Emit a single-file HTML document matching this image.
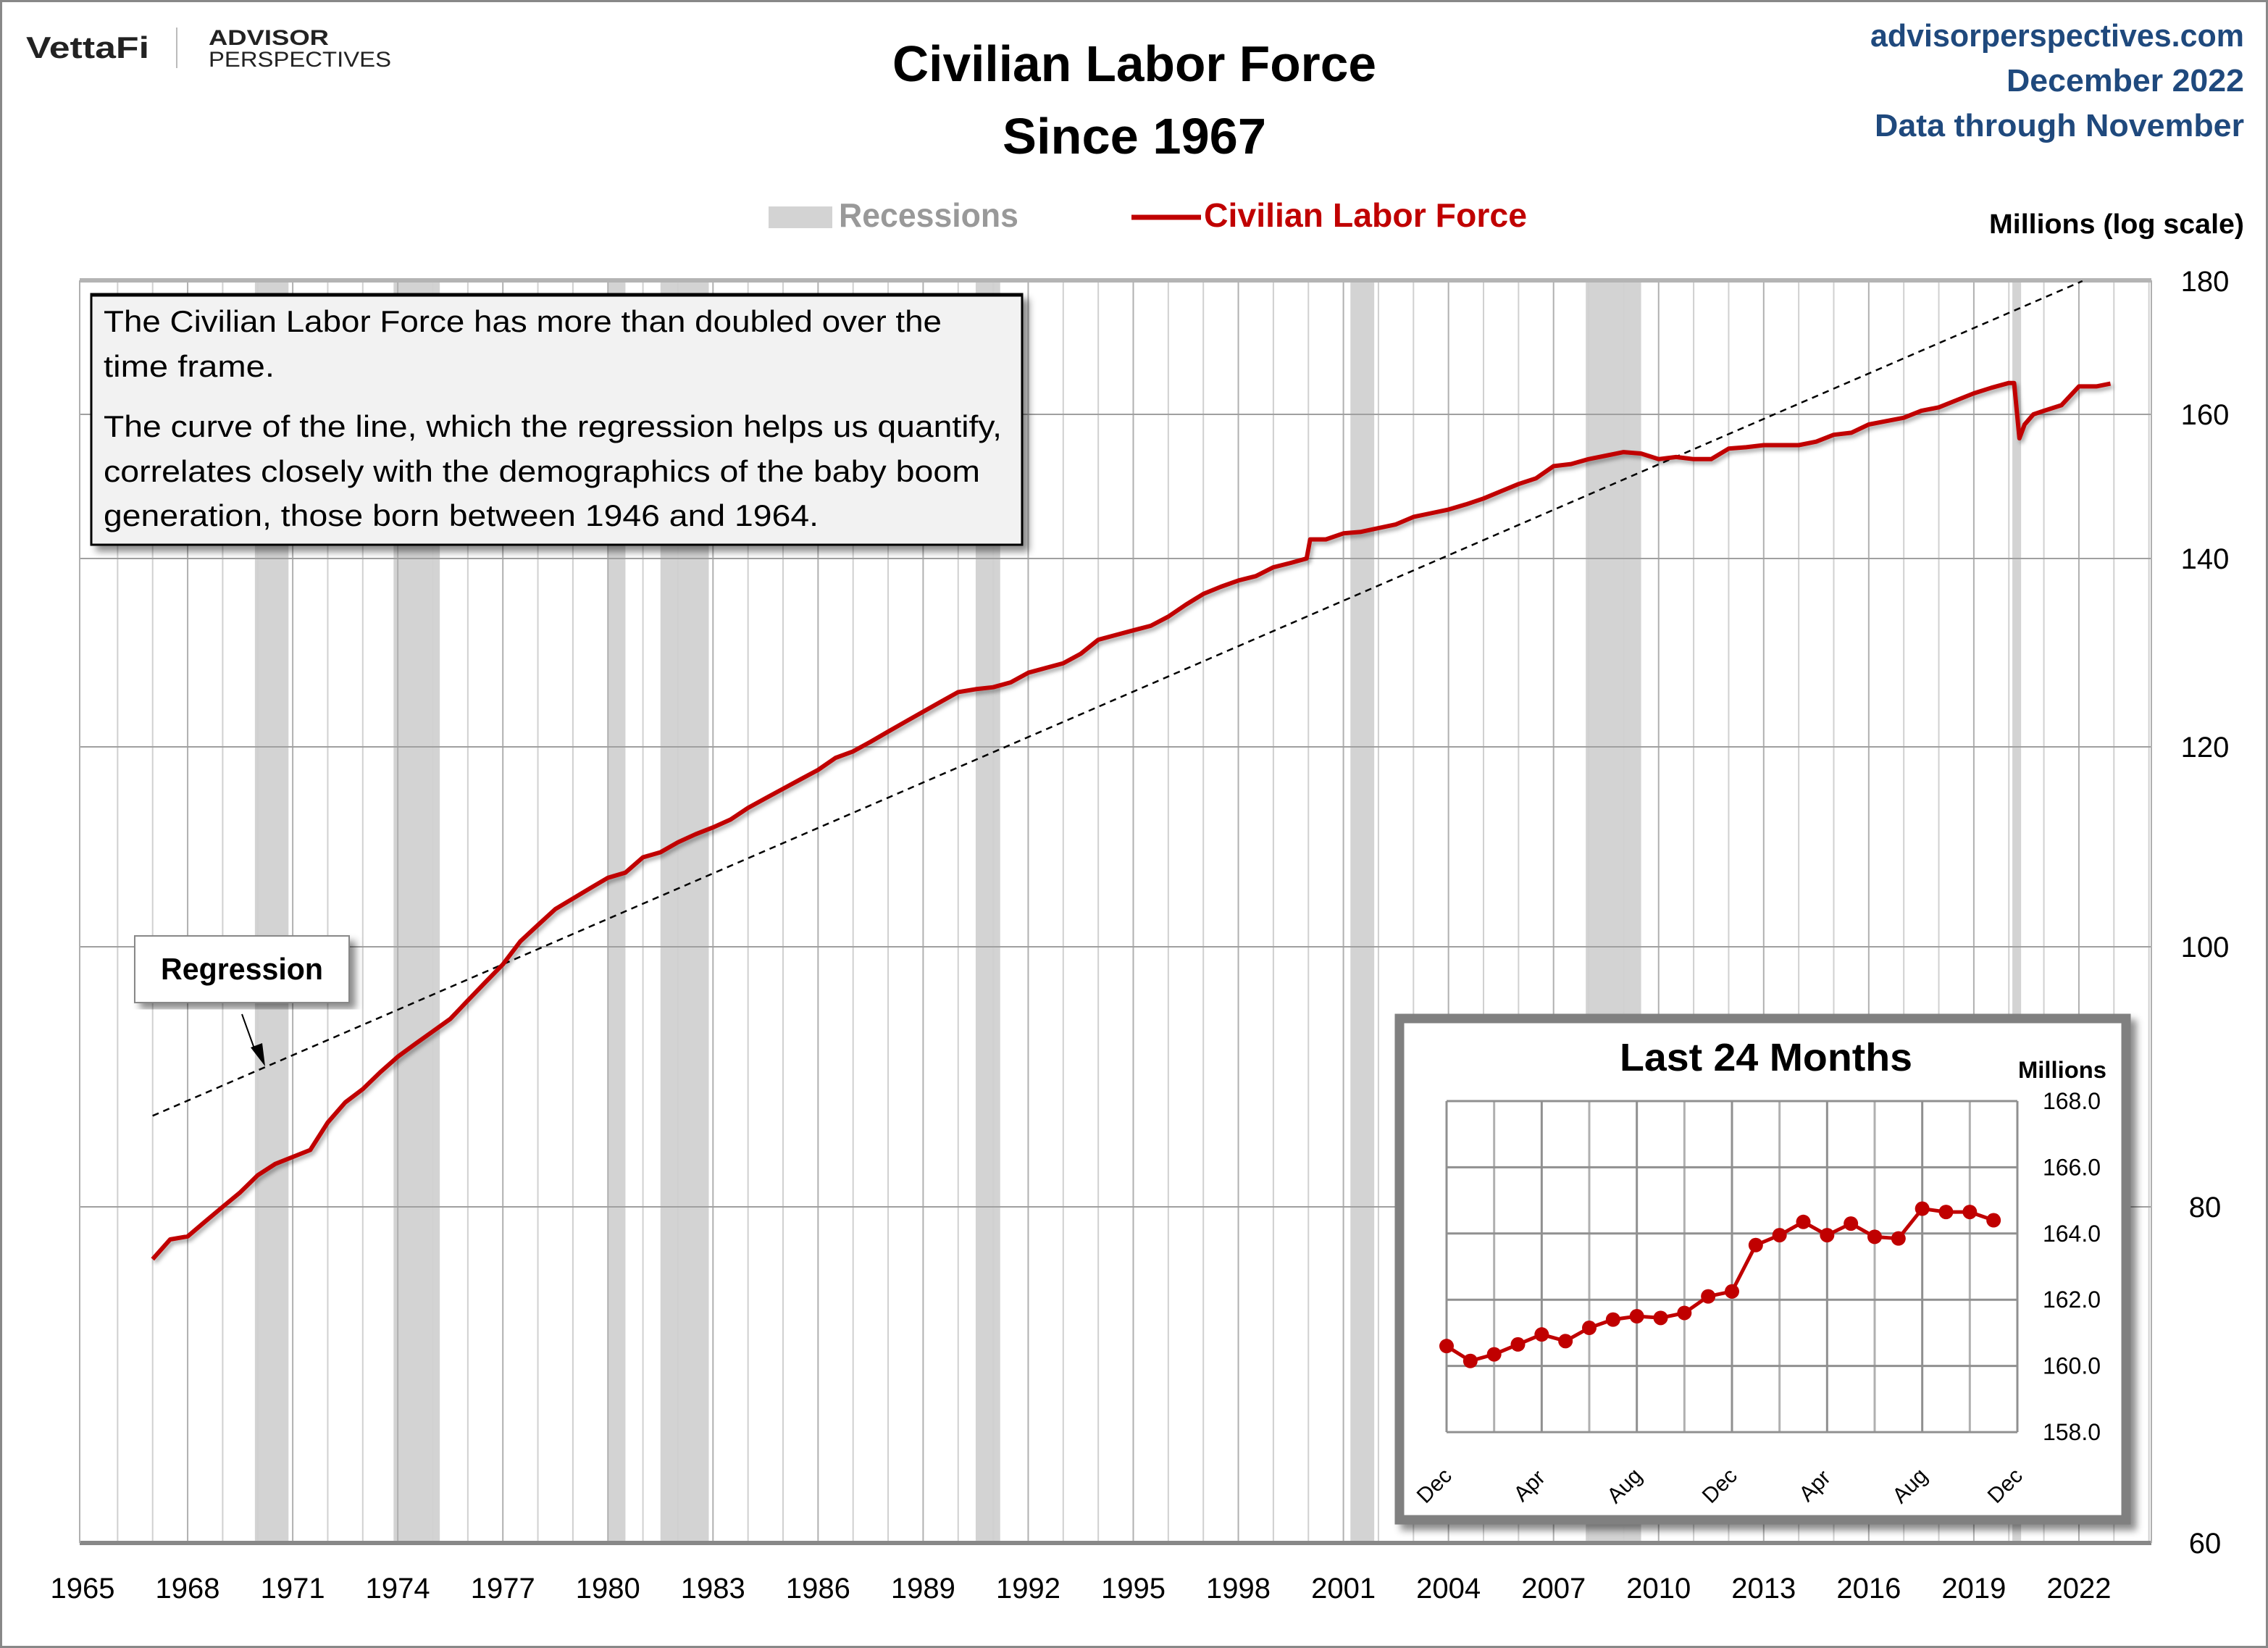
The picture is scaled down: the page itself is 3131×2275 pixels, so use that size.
<!DOCTYPE html>
<html><head><meta charset="utf-8"><style>
html,body{margin:0;padding:0;background:#fff}
svg{display:block}
text{font-family:"Liberation Sans",sans-serif}
</style></head><body>
<svg id="chart" xmlns="http://www.w3.org/2000/svg" width="3131" height="2275" viewBox="0 0 3131 2275">
<defs>
<filter id="sh" x="-5%" y="-5%" width="115%" height="115%"><feDropShadow dx="8" dy="8" stdDeviation="5" flood-color="#000" flood-opacity="0.45"/></filter>
<filter id="lsh" x="-5%" y="-5%" width="110%" height="110%"><feDropShadow dx="3" dy="4" stdDeviation="3" flood-color="#000" flood-opacity="0.35"/></filter>
</defs>
<rect x="1.5" y="1.5" width="3128" height="2272" fill="#fff" stroke="#888" stroke-width="3"/>
<g>
<text x="36" y="80" font-size="42" font-weight="bold" fill="#222" textLength="170" lengthAdjust="spacingAndGlyphs">VettaFi</text>
<line x1="244" y1="38" x2="244" y2="94" stroke="#bbb" stroke-width="2"/>
<text x="288" y="62" font-size="30" font-weight="bold" fill="#222" textLength="166" lengthAdjust="spacingAndGlyphs">ADVISOR</text>
<text x="288" y="92" font-size="30" fill="#222" textLength="252" lengthAdjust="spacingAndGlyphs">PERSPECTIVES</text>
</g>
<text x="1566" y="112" font-size="70" font-weight="bold" text-anchor="middle" textLength="668" lengthAdjust="spacingAndGlyphs">Civilian Labor Force</text>
<text x="1566" y="212" font-size="70" font-weight="bold" text-anchor="middle" textLength="364" lengthAdjust="spacingAndGlyphs">Since 1967</text>
<g fill="#1f497d" font-size="44" font-weight="bold" text-anchor="end">
<text x="3098" y="64" textLength="516" lengthAdjust="spacingAndGlyphs">advisorperspectives.com</text>
<text x="3098" y="126" textLength="328" lengthAdjust="spacingAndGlyphs">December 2022</text>
<text x="3098" y="188" textLength="510" lengthAdjust="spacingAndGlyphs">Data through November</text>
</g>
<g>
<rect x="1061" y="285" width="88" height="30" fill="#d3d3d3"/>
<text x="1158" y="313" font-size="46" font-weight="bold" fill="#999" textLength="248" lengthAdjust="spacingAndGlyphs">Recessions</text>
<line x1="1562" y1="300" x2="1658" y2="300" stroke="#c00000" stroke-width="7"/>
<text x="1662" y="313" font-size="46" font-weight="bold" fill="#c00000" textLength="446" lengthAdjust="spacingAndGlyphs">Civilian Labor Force</text>
</g>
<text x="3098" y="322" font-size="38" font-weight="bold" text-anchor="end" textLength="352" lengthAdjust="spacingAndGlyphs">Millions (log scale)</text>
<g id="main"></g>
<g id="inset"></g>
</svg>
<script>
const NS='http://www.w3.org/2000/svg';
// ---- main chart data ----
const recessionStarts=[1969.92,1973.88,1980.0,1981.5,1990.5,2001.2,2007.92,2020.1];
const recessionEnds=[1970.88,1975.2,1980.5,1982.88,1991.2,2001.88,2009.5,2020.35];
const yearTicks=[1965,1968,1971,1974,1977,1980,1983,1986,1989,1992,1995,1998,2001,2004,2007,2010,2013,2016,2019,2022];
const valueTicks=[60,80,100,120,140,160,180];
const clfDates=[1967.0,1967.5,1968.0,1968.5,1969.0,1969.5,1970.0,1970.5,1971.0,1971.5,1972.0,1972.5,1973.0,1973.5,1974.0,1974.5,1975.0,1975.5,1976.0,1976.5,1977.0,1977.5,1978.0,1978.5,1979.0,1979.5,1980.0,1980.5,1981.0,1981.5,1982.0,1982.5,1983.0,1983.5,1984.0,1984.5,1985.0,1985.5,1986.0,1986.5,1987.0,1987.5,1988.0,1988.5,1989.0,1989.5,1990.0,1990.5,1991.0,1991.5,1992.0,1992.5,1993.0,1993.5,1994.0,1994.5,1995.0,1995.5,1996.0,1996.5,1997.0,1997.5,1998.0,1998.5,1999.0,1999.5,1999.95,2000.05,2000.5,2001.0,2001.5,2002.0,2002.5,2003.0,2003.5,2004.0,2004.5,2005.0,2005.5,2006.0,2006.5,2007.0,2007.5,2008.0,2008.5,2009.0,2009.5,2010.0,2010.5,2011.0,2011.5,2012.0,2012.5,2013.0,2013.5,2014.0,2014.5,2015.0,2015.5,2016.0,2016.5,2017.0,2017.5,2018.0,2018.5,2019.0,2019.5,2020.0,2020.15,2020.3,2020.45,2020.7,2021.0,2021.5,2022.0,2022.5,2022.9];
const clfValues=[76.5,77.8,78.0,79.0,80.0,81.0,82.2,83.0,83.5,84.0,86.0,87.5,88.5,89.8,91.0,92.0,93.0,94.0,95.5,97.0,98.5,100.5,102.0,103.5,104.5,105.5,106.5,107.0,108.5,109.0,110.0,110.8,111.5,112.3,113.5,114.5,115.5,116.5,117.5,118.8,119.5,120.5,121.5,122.5,123.5,124.5,125.5,125.8,126.0,126.5,127.5,128.0,128.5,129.5,131.0,131.5,132.0,132.5,133.5,134.8,136.0,136.8,137.5,138.0,139.0,139.5,140.0,142.5,142.5,143.3,143.5,144.0,144.5,145.5,146.0,146.5,147.2,148.0,149.0,150.0,150.8,152.5,152.8,153.5,154.0,154.5,154.3,153.5,153.8,153.5,153.5,155.0,155.2,155.5,155.5,155.5,156.0,157.0,157.3,158.5,159.0,159.5,160.5,161.0,162.0,163.0,163.8,164.5,164.5,156.5,158.5,160.0,160.5,161.3,164.0,164.0,164.4];
const regressionYears=[1967,2022.1];
const regressionValues=[86.5,180];
// ---- inset data ----
const insetValues=[160.6,160.15,160.35,160.65,160.95,160.75,161.15,161.4,161.5,161.45,161.6,162.1,162.25,163.65,163.95,164.35,163.95,164.3,163.9,163.85,164.75,164.65,164.65,164.4];
const insetMonthLabels=['Dec','Apr','Aug','Dec','Apr','Aug','Dec'];
const insetTicks=[158,160,162,164,166,168];

function el(tag,attrs,parent){const e=document.createElementNS(NS,tag);for(const k in attrs)e.setAttribute(k,attrs[k]);parent.appendChild(e);return e;}
const main=document.getElementById('main');
const PL=110,PR=2970,PT=387,PB=2130;
const X0=114,PXY=48.35;
function xs(y){return X0+(y-1965)*PXY;}
const AXIS_CAL_V=[60,80,100,120,140,160,180];
const AXIS_CAL_PX=[2130,1666,1307,1031,771,572,388];
function ys(v){
  const lv=Math.log(v);
  let i=0; while(i<AXIS_CAL_V.length-2 && lv>Math.log(AXIS_CAL_V[i+1])) i++;
  const a=Math.log(AXIS_CAL_V[i]),b=Math.log(AXIS_CAL_V[i+1]);
  return AXIS_CAL_PX[i]+(lv-a)/(b-a)*(AXIS_CAL_PX[i+1]-AXIS_CAL_PX[i]);
}

for(let i=0;i<recessionStarts.length;i++){
  const r=el('rect',{x:xs(recessionStarts[i]),y:PT,width:xs(recessionEnds[i])-xs(recessionStarts[i]),height:PB-PT,fill:'#d3d3d3'},main);
  
  
}
for(let y=1966;y<=2024;y++){
  const x=xs(y); if(x>=PR) break;
  const l=el('line',{x1:x,y1:PT,x2:x,y2:PB,stroke:(y-1965)%3===0?'#b0b0b0':'#d0d0d0','stroke-width':2},main);
  
  
}
valueTicks.forEach(v=>{
  const y=ys(v);
  if(v>60&&v<180){const l=el('line',{x1:PL,y1:y,x2:PR,y2:y,stroke:'#a0a0a0','stroke-width':2},main);
  
  }
  const t=el('text',{x:3044,y:y+14,'font-size':40,'text-anchor':'middle'},main);t.textContent=v;
  
  
});
el('line',{x1:PL,y1:PT,x2:PR,y2:PT,stroke:'#b4b4b4','stroke-width':6},main);
el('line',{x1:PL,y1:PB,x2:PR,y2:PB,stroke:'#888','stroke-width':6},main);
el('line',{x1:PL,y1:PT,x2:PL,y2:PB,stroke:'#b0b0b0','stroke-width':2},main);
el('line',{x1:PR,y1:PT,x2:PR,y2:PB,stroke:'#b0b0b0','stroke-width':2},main);
yearTicks.forEach(y=>{
  const t=el('text',{x:xs(y),y:2206,'font-size':40,'text-anchor':'middle'},main);t.textContent=y;
  
  
});
const reg=el('line',{x1:xs(regressionYears[0]),y1:ys(regressionValues[0]),x2:xs(regressionYears[1]),y2:ys(regressionValues[1]),stroke:'#000','stroke-width':2.5,'stroke-dasharray':'9,7'},main);


let d='';clfDates.forEach((x,i)=>{d+=(i?'L':'M')+xs(x).toFixed(1)+','+ys(clfValues[i]).toFixed(1);});
const p=el('path',{d:d,fill:'none',stroke:'#c00000','stroke-width':6,'stroke-linejoin':'round',filter:'url(#lsh)'},main);


const ab=el('g',{},main);


el('rect',{x:126,y:406,width:1285,height:346,fill:'#f2f2f2',stroke:'#000','stroke-width':3,filter:'url(#sh)'},ab);
el('line',{x1:126,y1:407,x2:1411,y2:407,stroke:'#000','stroke-width':5},ab);
const lines=[['The Civilian Labor Force has more than doubled over the',458,1157],['time frame.',520,236],['The curve of the line, which the regression helps us quantify,',603,1240],['correlates closely with the demographics of the baby boom',665,1210],['generation, those born between 1946 and 1964.',726,987]];
lines.forEach(l=>{const t=el('text',{x:143,y:l[1],'font-size':42,textLength:l[2],lengthAdjust:'spacingAndGlyphs'},ab);t.textContent=l[0];});
const rb=el('g',{},main);


el('rect',{x:186,y:1292,width:296,height:92,fill:'#fff',stroke:'#888','stroke-width':2,filter:'url(#sh)'},rb);
const rt=el('text',{x:334,y:1352,'font-size':42,'font-weight':'bold','text-anchor':'middle',textLength:224,lengthAdjust:'spacingAndGlyphs'},rb);rt.textContent='Regression';
el('line',{x1:334,y1:1400,x2:352,y2:1450,stroke:'#000','stroke-width':2},rb);
el('polygon',{points:'346,1446 366,1472 362,1440',fill:'#000'},rb);

const ins=document.getElementById('inset');


el('rect',{x:1932,y:1406,width:1003,height:692,fill:'#fff',stroke:'#808080','stroke-width':13,filter:'url(#sh)'},ins);
const it=el('text',{x:2438,y:1478,'font-size':54,'font-weight':'bold','text-anchor':'middle',textLength:404,lengthAdjust:'spacingAndGlyphs'},ins);it.textContent='Last 24 Months';
const im=el('text',{x:2908,y:1488,'font-size':32,'font-weight':'bold','text-anchor':'end',textLength:122,lengthAdjust:'spacingAndGlyphs'},ins);im.textContent='Millions';
const IL=1997,IR=2785,IT=1520,IB=1977;
function ix(i){return IL+i*(IR-IL)/24;}
function iy(v){return IB-(v-158)/10*(IB-IT);}
for(let i=0;i<=12;i++){const g=el('line',{x1:ix(i*2),y1:IT,x2:ix(i*2),y2:IB,stroke:i%2?'#b0b0b0':'#909090','stroke-width':3},ins);
  
  }
insetTicks.forEach(v=>{const g=el('line',{x1:IL,y1:iy(v),x2:IR,y2:iy(v),stroke:'#909090','stroke-width':3},ins);
  
  
  const t=el('text',{x:2860,y:iy(v)+11,'font-size':32,'text-anchor':'middle'},ins);t.textContent=v.toFixed(1);
  
  });
insetMonthLabels.forEach((m,i)=>{const x=ix(i*4)-10,y=2058;const t=el('text',{x:x,y:y,'font-size':30,'text-anchor':'middle',transform:'rotate(-45 '+x+' '+y+')'},ins);t.textContent=m;
  
  });
let d2='';insetValues.forEach((v,i)=>{d2+=(i?'L':'M')+ix(i).toFixed(1)+','+iy(v).toFixed(1);});
const ip=el('path',{d:d2,fill:'none',stroke:'#c00000','stroke-width':5},ins);


insetValues.forEach((v,i)=>{const c=el('circle',{cx:ix(i),cy:iy(v),r:10,fill:'#c00000'},ins);
  
  });
</script>
</body></html>
